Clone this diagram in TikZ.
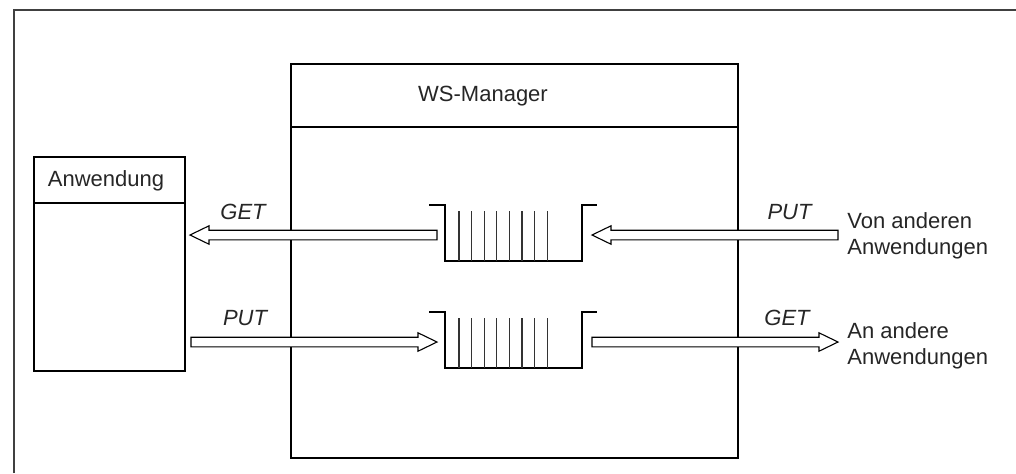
\documentclass[tikz,border=0pt]{standalone}
\usepackage{fontspec}
\setmainfont{Liberation Sans}
\usetikzlibrary{calc}
\begin{document}
\begin{tikzpicture}[x=0.5pt,y=-0.5pt,
  every node/.style={font=\fontsize{11}{13}\selectfont, text=black!85, inner sep=0pt},
  box/.style={draw=black, line width=0.8pt, anchor=north west},
  frameline/.style={draw=black!75, line width=1pt},
  rule/.style={draw=black, line width=0.7pt},
  lbl/.style={font=\fontsize{11}{13}\selectfont\itshape, anchor=base},
  blockarrow/.style={draw=black, line width=0.55pt, fill=white, line join=miter,
    to path={let \p1=(\tikztostart), \p2=(\tikztotarget),
      \n1={ifthenelse(\x2>\x1,1,-1)} in
      (\x1,\y1+2.4pt) -- (\x2-\n1*9.5pt,\y1+2.4pt) -- (\x2-\n1*9.5pt,\y1+4.6pt)
      -- (\x2,\y2) -- (\x2-\n1*9.5pt,\y1-4.6pt) -- (\x2-\n1*9.5pt,\y1-2.4pt)
      -- (\x1,\y1-2.4pt) -- cycle}},
  queue/.pic={
    \draw[black, line width=0.7pt] (-84.5,-28) -- (-68.5,-28) -- (-68.5,28)
      -- (68.5,28) -- (68.5,-28) -- (83.5,-28);
    \foreach \i in {0,...,7}
      \draw[black!80, line width=0.6pt] (-54.5+12.6*\i,-22) -- (-54.5+12.6*\i,28);
    \coordinate (-in) at (-76.5,2);
    \coordinate (-out) at (78.5,2);
  }]
\useasboundingbox (0,0) rectangle (1016,473);
% outer frame (only top and left edges visible)
\coordinate (fTL) at (14,10);
\coordinate (fTR) at (1016,10);
\coordinate (fBL) at (14,473);
\draw[frameline] (fBL) -- (fTL) -- (fTR);

% application box
\node[box, minimum width=75.5pt, minimum height=107pt] (app) at (33,156) {};
\draw[rule] (app.west |- 0,203) -- (app.east |- 0,203);
\node[anchor=base] (apptitle) at (106,186) {Anwendung};

% WS-Manager box
\node[box, minimum width=223.5pt, minimum height=197pt] (ws) at (290,63) {};
\draw[rule] (ws.west |- 0,127) -- (ws.east |- 0,127);
\node[anchor=base] (wstitle) at (483,101) {WS-Manager};

% queues
\pic (q1) at (513.5,233) {queue};
\pic (q2) at (513.5,340) {queue};

% endpoints
\coordinate (appin) at (190,235);
\coordinate (appout) at (191,342);
\coordinate (extin) at (838,235);
\coordinate (extout) at (838,342);

% arrows
\draw[blockarrow] (q1-in) to (appin);
\draw[blockarrow] (extin) to (q1-out);
\draw[blockarrow] (appout) to (q2-in);
\draw[blockarrow] (q2-out) to (extout);

% labels
\node[lbl] (l1) at (243,219) {GET};
\node[lbl] (l2) at (789.5,219) {PUT};
\node[lbl] (l3) at (245,325) {PUT};
\node[lbl] (l4) at (787,325) {GET};

\node[anchor=west, align=left] (von) at (847,236) {Von anderen\\Anwendungen};
\node[anchor=west, align=left] (an) at (847,346) {An andere\\Anwendungen};
\end{tikzpicture}
\end{document}
